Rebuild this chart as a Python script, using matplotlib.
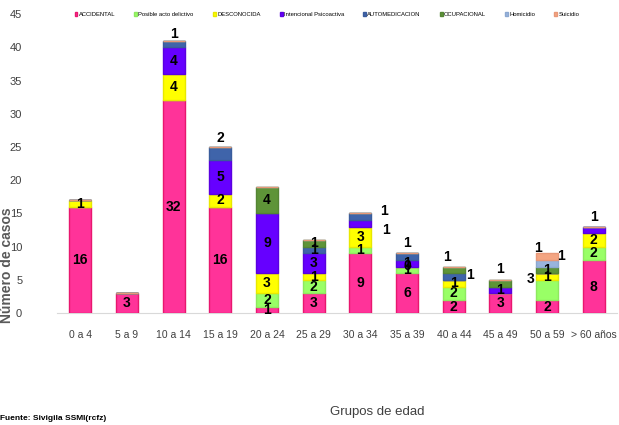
import numpy as np
import matplotlib
matplotlib.use('Agg')
import matplotlib.pyplot as plt

plt.rcParams['font.family'] = ['Liberation Sans', 'DejaVu Sans']

# grupos de edad
grupos = ['0 a 4', '5 a 9', '10 a 14', '15 a 19', '20 a 24', '25 a 29',
          '30 a 34', '35 a 39', '40 a 44', '45 a 49', '50 a 59', '> 60 años']

accidental   = [16, 3, 32, 16, 1, 3, 9, 6, 2, 3, 2, 8]
posible_acto = [0, 0, 0, 0, 2, 2, 1, 1, 2, 0, 3, 2]
desconocida  = [1, 0, 4, 2, 3, 1, 3, 0, 1, 0, 1, 2]
intencional  = [0, 0, 4, 5, 9, 3, 1, 1, 0, 1, 0, 1]
automedic    = [0, 0, 1, 2, 0, 1, 1, 1, 1, 0, 0, 0]
ocupacional  = [0, 0, 0, 0, 4, 1, 0, 0, 1, 1, 1, 0]
homicidio    = [0, 0, 0, 0, 0, 0, 0, 0, 0, 0, 1, 0]
suicidio     = [0, 0, 0, 0, 0, 0, 0, 0, 0, 0, 1, 0]

nombres = ['ACCIDENTAL', 'Posible acto delictivo', 'DESCONOCIDA', 'Intencional Psicoactiva',
           'AUTOMEDICACION', 'OCUPACIONAL', 'Homicidio', 'Suicidio']
series = [accidental, posible_acto, desconocida, intencional,
          automedic, ocupacional, homicidio, suicidio]
colores = ['#FF3399', '#99FF66', '#FFFF00', '#6600FF',
           '#3F64AA', '#5E9438', '#99B4DD', '#F4A582']
bordes = ['#E8176F', '#8EE860', '#E8E800', '#5A00E0',
          '#3A5C9C', '#548534', '#8CA8D0', '#E89878']

# etiquetas que van fuera de la barra: (grupo, serie) -> (dx, dy) en unidades de datos
fuera = {(2, 4): (0, 1.0), (3, 4): (0, 1.3), (6, 4): (0.5, 0.4), (6, 3): (0.55, -1.5),
         (7, 4): (0, 1.6), (8, 5): (-0.15, 1.5), (8, 4): (0.35, -0.3),
         (9, 5): (0, 1.6), (10, 7): (-0.2, 0.8), (10, 6): (0.3, 0.6),
         (10, 1): (-0.35, 0.2), (11, 3): (0, 1.4)}

fig = plt.figure(figsize=(6.19, 4.25), dpi=100)
ax = fig.add_axes([0.092, 0.263, 0.905, 0.704])

x = np.arange(len(grupos))
base = np.zeros(len(grupos))
for s, (vals, nom, col, bc) in enumerate(zip(series, nombres, colores, bordes)):
    vals = np.array(vals, dtype=float)
    ax.bar(x, vals, width=0.47, bottom=base, color=col, edgecolor=bc,
           linewidth=1.0, label=nom, zorder=3)
    for i, v in enumerate(vals):
        if v <= 0:
            continue
        cx, cy = x[i], base[i] + v / 2
        if (i, s) in fuera:
            dx, dy = fuera[(i, s)]
            cx, cy = cx + dx, base[i] + v + dy
        ax.text(cx, cy, '%d' % v, ha='center', va='center', fontsize=10,
                fontweight='bold', color='black', zorder=5)
    base += vals
# DESCONOCIDA 0 en 35 a 39
ax.text(x[7], accidental[7] + 1.1, '0', ha='center', va='center', fontsize=10,
        fontweight='bold', zorder=4)

ax.set_xlim(-0.5, len(grupos) - 0.5)
ax.set_ylim(0, 45)
ax.set_yticks(range(0, 46, 5))
ax.set_xticks(x)
ax.set_xticklabels(grupos, fontsize=7.5, color='#404040')
ax.tick_params(axis='y', labelsize=8, labelcolor='#404040', length=0, pad=25)
ax.tick_params(axis='x', length=0, pad=12)
for sp in ['top', 'right', 'left']:
    ax.spines[sp].set_visible(False)
ax.spines['bottom'].set_color('#D9D9D9')

ax.legend(loc='upper left', bbox_to_anchor=(0.022, 1.025), ncol=8, frameon=False,
          fontsize=4.2, handlelength=0.5, handleheight=0.6, handletextpad=0.2,
          columnspacing=3.3)

fig.text(0.012, 0.375, 'Número de casos', rotation=90, ha='center', va='center',
         fontsize=10, fontweight='bold', color='#595959')
fig.text(0.61, 0.03, 'Grupos de edad', ha='center', va='center', fontsize=9.5,
         color='#404040')
fig.text(0.0, 0.016, 'Fuente: Sivigila SSMI(rcfz)', ha='left', va='center',
         fontsize=6, fontweight='bold')

fig.savefig('out.png', dpi=100)
